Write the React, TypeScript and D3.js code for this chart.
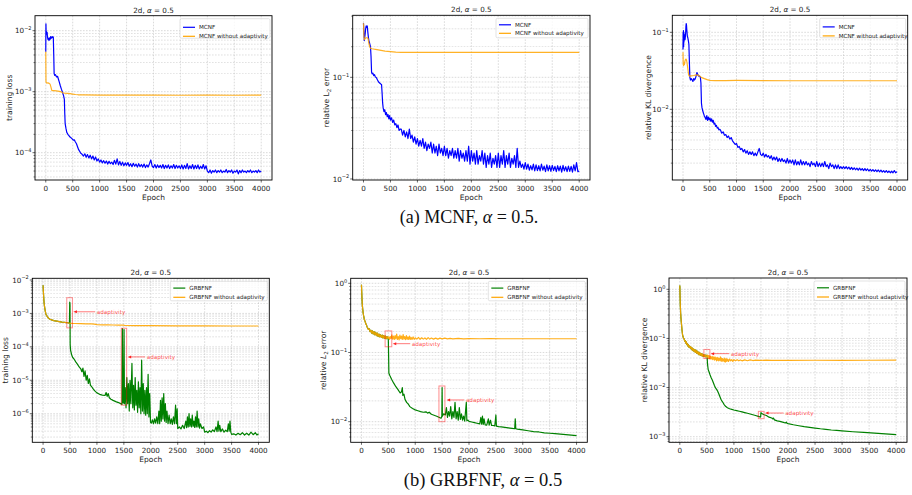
import React from 'react';
import * as d3 from 'd3';

type P = [number, number];

// ---------------- data ----------------
const X_DOMAIN: [number, number] = [-200, 4200];
const EPOCH_TICKS = [0, 500, 1000, 1500, 2000, 2500, 3000, 3500, 4000];

// (a) MCNF training loss
const mcnfLossHead: P[] = [[0,4.5e-3],[3,1.3e-2],[6,1.0e-2],[10,9.3e-3],[15,9.6e-3],[20,8.8e-3],[25,9.4e-3],[30,8.2e-3],[35,7.6e-3],[40,7.2e-3],[50,7.5e-3],[60,6.9e-3],[70,7.6e-3],[80,7.2e-3],[90,8.0e-3],[100,7.5e-3],[110,7.9e-3],[120,7.7e-3],[130,8.0e-3],[140,7.8e-3],[148,4.0e-3],[155,2.0e-3],[165,1.85e-3],[180,1.9e-3],[200,1.75e-3],[220,1.78e-3],[235,1.6e-3],[250,1.45e-3],[270,1.25e-3],[290,1.1e-3],[310,9.8e-4],[330,8.6e-4],[345,7.5e-4],[352,4.5e-4],[360,3.0e-4],[375,2.5e-4],[390,2.15e-4],[410,2.0e-4],[430,1.9e-4],[450,1.8e-4],[470,1.75e-4],[490,1.68e-4],[510,1.6e-4],[530,1.62e-4],[550,1.5e-4],[570,1.4e-4],[590,1.25e-4],[610,1.12e-4],[630,1.05e-4],[650,9.8e-5],[675,9.4e-5]];
const mcnfLossTail = [
  8.8e-5,9.6e-5,8.4e-5,9.3e-5,8.2e-5,9.1e-5,7.9e-5,8.8e-5,
  7.6e-5,8.5e-5,7.3e-5,7.9e-5,7.0e-5,7.6e-5,6.8e-5,7.4e-5,
  6.7e-5,7.3e-5,6.5e-5,7.2e-5,6.6e-5,7.0e-5,6.4e-5,7.5e-5,
  6.5e-5,7.9e-5,6.3e-5,7.2e-5,6.2e-5,7.0e-5,6.1e-5,6.8e-5,
  6.2e-5,6.9e-5,6.0e-5,6.6e-5,5.9e-5,6.7e-5,6.0e-5,6.5e-5,
  5.8e-5,6.6e-5,5.9e-5,6.4e-5,5.8e-5,6.5e-5,5.7e-5,6.3e-5,
  5.8e-5,6.6e-5,7.6e-5,6.0e-5,5.7e-5,6.4e-5,5.6e-5,6.3e-5,
  5.7e-5,6.2e-5,5.6e-5,6.4e-5,5.5e-5,6.2e-5,5.6e-5,6.3e-5,
  5.5e-5,6.1e-5,5.6e-5,6.4e-5,5.5e-5,6.2e-5,5.6e-5,6.1e-5,
  5.5e-5,6.3e-5,5.4e-5,6.2e-5,5.5e-5,6.6e-5,5.4e-5,6.1e-5,
  5.5e-5,6.4e-5,5.4e-5,6.2e-5,5.5e-5,6.3e-5,5.4e-5,6.0e-5,
  5.5e-5,6.4e-5,5.4e-5,6.1e-5,
  5.0e-5,4.7e-5,5.2e-5,4.6e-5,5.1e-5,4.8e-5,5.2e-5,4.7e-5,
  5.1e-5,4.8e-5,5.2e-5,4.7e-5,5.0e-5,4.8e-5,5.3e-5,4.7e-5,
  5.1e-5,4.8e-5,5.2e-5,4.6e-5,5.0e-5,4.8e-5,5.2e-5,4.5e-5,
  5.1e-5,4.7e-5,5.2e-5,4.8e-5,5.0e-5,4.7e-5,5.1e-5,4.8e-5,
  5.2e-5,4.7e-5,5.0e-5,4.8e-5,5.1e-5,4.7e-5,5.2e-5,4.8e-5,
  5.0e-5];
const mcnfLossNoAdapt: P[] = [[0,4.5e-3],[4,1.45e-3],[10,1.42e-3],[20,1.38e-3],[40,1.4e-3],[60,1.37e-3],[80,1.33e-3],[95,1.2e-3],[110,1.06e-3],[125,1.04e-3],[150,1.04e-3],[200,1.03e-3],[250,1.01e-3],[290,9.9e-4],[310,9.6e-4],[350,9.5e-4],[400,9.4e-4],[450,9.3e-4],[500,9.15e-4],[550,9.0e-4],[600,8.9e-4],[700,8.85e-4],[1000,8.8e-4],[1500,8.78e-4],[2000,8.8e-4],[2500,8.75e-4],[3000,8.78e-4],[3500,8.75e-4],[4000,8.8e-4]];

// (a) MCNF relative L2 error
const mcnfL2Head: P[] = [[0,0.34],[8,0.28],[16,0.23],[24,0.25],[32,0.27],[40,0.3],[50,0.32],[60,0.31],[70,0.32],[80,0.28],[90,0.25],[100,0.23],[110,0.22],[120,0.21],[130,0.2],[140,0.16],[150,0.112],[160,0.108],[175,0.11],[190,0.104],[205,0.106],[220,0.101],[240,0.099],[260,0.094],[280,0.09],[300,0.088],[320,0.086],[335,0.085],[345,0.07],[355,0.056],[365,0.05],[380,0.046],[395,0.048],[410,0.043],[425,0.045],[440,0.041],[455,0.043],[470,0.039],[485,0.042],[500,0.038],[520,0.04],[540,0.036],[560,0.038],[580,0.034],[600,0.035],[620,0.032],[640,0.034],[660,0.03],[680,0.031]];
const mcnfL2Tail = [
  0.031,0.027,0.030,0.026,0.029,0.025,0.031,0.025,
  0.027,0.023,0.026,0.022,0.025,0.021,0.024,0.021,
  0.025,0.020,0.023,0.019,0.022,0.020,0.023,0.018,
  0.022,0.018,0.021,0.017,0.022,0.018,0.020,0.017,
  0.021,0.017,0.020,0.016,0.019,0.017,0.020,0.016,
  0.019,0.016,0.020,0.015,0.019,0.016,0.018,0.015,
  0.019,0.015,0.021,0.014,0.019,0.015,0.018,0.014,
  0.019,0.014,0.017,0.015,0.019,0.014,0.018,0.013,
  0.017,0.014,0.018,0.013,0.016,0.014,0.017,0.013,
  0.018,0.013,0.017,0.014,0.019,0.013,0.017,0.014,
  0.018,0.013,0.016,0.014,0.017,0.013,0.020,0.013,
  0.015,0.013,0.014,0.0125,
  0.0145,0.0125,0.014,0.0122,0.0135,0.0123,0.014,0.012,
  0.0138,0.0121,0.0135,0.012,0.014,0.0122,0.0134,0.0118,
  0.0138,0.012,0.0135,0.0119,0.0136,0.0121,0.0133,0.0118,
  0.0135,0.012,0.0134,0.0117,0.0136,0.012,0.0132,0.0118,
  0.0134,0.0119,0.0133,0.0117,0.0138,0.012,0.0145,0.0118,
  0.012];
const mcnfL2NoAdapt: P[] = [[0,0.34],[8,0.26],[16,0.235],[30,0.24],[50,0.245],[70,0.245],[85,0.24],[100,0.215],[115,0.2],[130,0.193],[160,0.191],[200,0.189],[250,0.187],[300,0.185],[350,0.183],[400,0.181],[450,0.18],[500,0.179],[600,0.177],[700,0.176],[1000,0.176],[2000,0.176],[3000,0.176],[4000,0.176]];

// (a) MCNF relative KL divergence
const mcnfKLHead: P[] = [[0,0.06],[3,0.1],[6,0.07],[9,0.105],[12,0.065],[15,0.1],[18,0.075],[22,0.095],[26,0.08],[30,0.085],[35,0.08],[40,0.082],[45,0.09],[50,0.1],[55,0.12],[60,0.13],[65,0.125],[70,0.11],[75,0.1],[80,0.09],[90,0.085],[100,0.078],[110,0.07],[120,0.04],[128,0.026],[140,0.024],[155,0.025],[170,0.024],[185,0.023],[200,0.025],[215,0.024],[230,0.025],[245,0.027],[260,0.03],[270,0.029],[280,0.028],[295,0.027],[310,0.027],[325,0.026],[335,0.022],[345,0.012],[355,0.0105],[370,0.0095],[385,0.0088],[400,0.0082],[415,0.0078],[430,0.0074],[445,0.0083],[460,0.0072],[475,0.0079],[490,0.0073],[505,0.0077],[520,0.007],[535,0.0075],[550,0.0068],[565,0.0072],[580,0.0064],[595,0.0066],[610,0.006],[625,0.0062],[640,0.0057],[655,0.0058],[670,0.0054],[685,0.0055]];
const mcnfKLTail = [
  0.0054,0.0049,0.0051,0.0046,0.0047,0.0043,0.0045,0.0041,
  0.0043,0.0039,0.0037,0.0035,0.0036,0.0032,0.0033,0.003,
  0.0031,0.0028,0.003,0.0027,0.0029,0.0026,0.0028,0.0026,
  0.0028,0.0025,0.0027,0.0025,0.0028,0.0031,0.0026,0.0025,
  0.0027,0.0024,0.0026,0.0024,0.0025,0.0023,0.0025,0.0022,
  0.0024,0.0022,0.0024,0.0021,0.0023,0.0021,0.0023,0.0021,
  0.0022,0.002,0.0023,0.002,0.0022,0.002,0.0022,0.0019,
  0.0022,0.0019,0.0021,0.0019,0.0022,0.0019,0.0021,0.0019,
  0.0021,0.0019,0.002,0.0018,0.0021,0.0019,0.002,0.0018,
  0.0021,0.0018,0.002,0.0018,0.002,0.0018,0.0021,0.0018,
  0.0019,0.0017,0.002,0.0018,0.0019,0.0017,0.0019,0.0017,
  0.0019,0.0017,0.0018,0.0017,
  0.0018,0.0017,0.0018,0.00168,0.00178,0.00166,0.00176,0.00165,
  0.00174,0.00164,0.00172,0.00162,0.00172,0.00162,0.0017,0.0016,
  0.0017,0.0016,0.00168,0.00158,0.00166,0.00158,0.00165,0.00156,
  0.00164,0.00155,0.00163,0.00154,0.00162,0.00153,0.0016,0.00152,
  0.0016,0.00151,0.00158,0.0015,0.00157,0.0015,0.0016,0.0015,
  0.00155];
const mcnfKLNoAdapt: P[] = [[0,0.055],[4,0.04],[10,0.037],[18,0.04],[26,0.038],[35,0.042],[45,0.044],[55,0.045],[65,0.044],[75,0.04],[90,0.034],[105,0.028],[120,0.027],[150,0.0272],[200,0.0275],[250,0.028],[280,0.0278],[310,0.027],[350,0.0258],[400,0.025],[450,0.0243],[500,0.0238],[600,0.0236],[800,0.0236],[1000,0.0237],[1500,0.0236],[2000,0.0235],[3000,0.0235],[4000,0.0235]];

// (b) GRBFNF training loss
const grbfLossHead: P[] = [[0,7e-3],[5,4.8e-3],[10,3.4e-3],[15,2.5e-3],[20,2.0e-3],[30,1.5e-3],[40,1.2e-3],[50,1.0e-3],[60,9e-4],[80,8e-4],[100,7.2e-4],[130,6.7e-4],[160,6.4e-4],[200,6.1e-4],[250,5.9e-4],[300,5.7e-4],[350,5.5e-4],[400,5.4e-4],[450,5.25e-4],[490,5.15e-4]];
const grbfLossNoAdaptTail: P[] = [[550,5.05e-4],[600,5.0e-4],[700,4.95e-4],[800,4.9e-4],[900,4.85e-4],[950,4.8e-4],[1000,4.6e-4],[1100,4.55e-4],[1200,4.52e-4],[1300,4.5e-4],[1400,4.48e-4],[1500,4.45e-4],[1510,4.35e-4],[1700,4.32e-4],[2000,4.3e-4],[2500,4.25e-4],[3000,4.22e-4],[3500,4.2e-4],[4000,4.2e-4]];
const grbfLossTail: P[] = [[495,2.2e-3],[500,1.9e-3],[503,1.2e-4],[510,8e-5],[530,5.8e-5],[550,4.8e-5],[580,4.2e-5],[610,3.5e-5],[640,3.0e-5],[670,2.5e-5],[700,2.2e-5],[720,1.8e-5],[740,2.3e-5],[760,1.3e-5],[780,1.9e-5],[800,1.0e-5],[820,1.4e-5],[840,8e-6],[860,1.1e-5],[880,7e-6],[900,6.5e-6],[930,5.5e-6],[960,4.8e-6],[1000,4.2e-6],[1050,3.8e-6],[1100,3.6e-6],[1150,3.5e-6],[1170,4.3e-6],[1190,3.3e-6],[1210,4.0e-6],[1230,3.0e-6],[1260,2.7e-6],[1300,2.5e-6],[1350,2.3e-6],[1400,2.15e-6],[1440,2.0e-6],[1465,1.9e-6],[1472,3.5e-4],[1480,2.2e-6],[1495,2.1e-6],[1503,3.3e-4],[1511,2.0e-6],[1525,6e-6],[1540,1.5e-6],[1555,1.2e-5],[1570,2e-6],[1585,8e-6],[1600,1.2e-6],[1615,1.0e-5],[1630,2e-6],[1650,3.2e-5],[1665,1.5e-6],[1680,7e-6],[1695,1.3e-6],[1710,1.2e-5],[1725,1.8e-6],[1740,5e-6],[1755,1.1e-6],[1770,9e-6],[1785,1.5e-6],[1800,6e-6],[1815,1.0e-6],[1830,4e-5],[1845,1.2e-6],[1860,8e-6],[1875,1.0e-6],[1890,5e-6],[1905,9e-7],[1920,6e-6],[1935,1.0e-6],[1950,1.5e-5],[1965,8e-7],[1980,4e-6],[1995,5.5e-7],[2010,5.2e-7],[2030,6.5e-7],[2050,5e-7],[2070,7e-7],[2090,5.2e-7],[2110,8e-7],[2130,5e-7],[2150,1.2e-6],[2165,5e-7],[2180,2.5e-6],[2195,6e-7],[2210,3e-6],[2225,7e-7],[2240,4e-6],[2255,6e-7],[2270,2e-6],[2285,5.5e-7],[2300,1.2e-6],[2320,5e-7],[2340,9e-7],[2360,5e-7],[2380,7e-7],[2400,4.8e-7],[2420,8e-7],[2440,5e-7],[2460,1.8e-6],[2475,5e-7],[2490,1.4e-6],[2500,3.6e-7],[2530,4e-7],[2560,3.5e-7],[2590,4.5e-7],[2620,3.6e-7],[2650,6e-7],[2665,3.8e-7],[2680,8e-7],[2695,4e-7],[2710,1e-6],[2725,4.2e-7],[2740,7e-7],[2755,4e-7],[2770,9e-7],[2785,4.2e-7],[2800,6e-7],[2815,3.9e-7],[2830,8e-7],[2845,4e-7],[2860,1.2e-6],[2875,4e-7],[2890,7e-7],[2905,3.7e-7],[2920,5e-7],[2950,3.6e-7],[2980,4e-7],[3000,2.8e-7],[3030,3e-7],[3060,2.7e-7],[3090,3.1e-7],[3120,2.8e-7],[3150,3.3e-7],[3180,2.9e-7],[3210,4e-7],[3230,2.9e-7],[3250,6e-7],[3265,3e-7],[3280,4.5e-7],[3300,2.9e-7],[3330,3.5e-7],[3360,2.8e-7],[3390,3.2e-7],[3420,2.9e-7],[3440,5e-7],[3455,3e-7],[3470,6e-7],[3485,2.8e-7],[3500,2.4e-7],[3540,2.5e-7],[3580,2.3e-7],[3620,2.6e-7],[3660,2.35e-7],[3700,2.7e-7],[3740,2.3e-7],[3780,2.6e-7],[3820,2.3e-7],[3860,2.8e-7],[3900,2.35e-7],[3940,2.7e-7],[3970,2.3e-7],[4000,2.5e-7]];

// (b) GRBFNF relative L2 error
const grbfL2Head: P[] = [[0,0.95],[5,0.75],[10,0.6],[15,0.5],[20,0.45],[30,0.38],[40,0.34],[50,0.31],[60,0.29],[70,0.28],[80,0.26],[90,0.255],[100,0.24],[115,0.225],[130,0.215],[145,0.22],[160,0.2],[175,0.21],[190,0.19],[205,0.205],[220,0.185],[235,0.2],[250,0.18],[265,0.195],[280,0.175],[295,0.19],[310,0.17],[325,0.185],[340,0.168],[355,0.18],[370,0.165],[385,0.178],[400,0.162],[415,0.176],[430,0.16],[445,0.172],[460,0.158],[475,0.17],[490,0.16]];
const grbfL2NoAdaptTail: P[] = [[505,0.168],[520,0.155],[535,0.17],[550,0.158],[565,0.18],[580,0.156],[595,0.172],[610,0.154],[625,0.175],[640,0.157],[655,0.185],[670,0.155],[685,0.17],[700,0.152],[715,0.178],[730,0.158],[745,0.172],[760,0.154],[775,0.182],[790,0.156],[805,0.17],[820,0.153],[835,0.176],[850,0.155],[865,0.168],[880,0.154],[895,0.172],[910,0.155],[925,0.165],[940,0.154],[960,0.168],[980,0.155],[1000,0.163],[1030,0.156],[1060,0.165],[1090,0.155],[1120,0.163],[1150,0.156],[1180,0.162],[1210,0.155],[1240,0.164],[1270,0.156],[1300,0.162],[1340,0.156],[1380,0.161],[1420,0.156],[1460,0.161],[1500,0.157],[1550,0.161],[1600,0.157],[1650,0.16],[1700,0.157],[1800,0.16],[1900,0.157],[2000,0.159],[2200,0.158],[2400,0.159],[2600,0.158],[3000,0.158],[3500,0.158],[4000,0.158]];
const grbfL2Tail: P[] = [[495,0.16],[500,0.15],[505,0.09],[510,0.05],[530,0.046],[560,0.041],[600,0.036],[640,0.032],[680,0.029],[720,0.026],[745,0.027],[760,0.031],[770,0.024],[790,0.025],[810,0.021],[840,0.019],[870,0.018],[900,0.0165],[950,0.0155],[1000,0.0148],[1050,0.0144],[1100,0.014],[1150,0.0137],[1200,0.0139],[1230,0.0133],[1260,0.0137],[1300,0.0128],[1350,0.0124],[1400,0.012],[1450,0.0115],[1480,0.0112],[1495,0.012],[1500,0.031],[1505,0.012],[1530,0.013],[1560,0.0125],[1580,0.016],[1600,0.0115],[1620,0.014],[1640,0.012],[1660,0.0165],[1680,0.011],[1700,0.014],[1720,0.0115],[1740,0.019],[1760,0.011],[1780,0.014],[1800,0.0105],[1820,0.016],[1840,0.0108],[1860,0.013],[1880,0.0105],[1900,0.012],[1920,0.0102],[1950,0.019],[1960,0.0103],[1980,0.0105],[2000,0.0101],[2050,0.0099],[2100,0.0097],[2150,0.0095],[2200,0.0093],[2220,0.0115],[2235,0.0092],[2250,0.012],[2265,0.0091],[2280,0.011],[2300,0.009],[2330,0.0089],[2360,0.011],[2375,0.0089],[2400,0.0105],[2420,0.0088],[2450,0.0088],[2480,0.0087],[2500,0.0125],[2510,0.0086],[2550,0.0085],[2600,0.0084],[2700,0.0082],[2800,0.008],[2850,0.0079],[2860,0.011],[2870,0.0079],[2900,0.0078],[3000,0.0076],[3100,0.0074],[3200,0.0072],[3300,0.0071],[3400,0.0069],[3500,0.0068],[3600,0.0067],[3700,0.0066],[3800,0.0065],[3900,0.0064],[4000,0.0063]];

// (b) GRBFNF relative KL divergence
const grbfKLHead: P[] = [[0,1.2],[5,0.7],[10,0.45],[15,0.33],[20,0.27],[30,0.2],[40,0.15],[50,0.12],[60,0.108],[70,0.1],[80,0.098],[90,0.088],[100,0.09],[110,0.08],[120,0.085],[130,0.075],[140,0.078],[150,0.07],[160,0.074],[170,0.066],[180,0.07],[190,0.064],[200,0.068],[210,0.061],[220,0.065],[230,0.058],[240,0.063],[250,0.056],[260,0.06],[270,0.054],[280,0.059],[290,0.052],[300,0.057],[310,0.05],[320,0.055],[330,0.049],[340,0.053],[350,0.047],[360,0.052],[370,0.046],[380,0.05],[390,0.045],[400,0.049],[410,0.044],[420,0.048],[430,0.043],[440,0.047],[450,0.043],[460,0.046],[470,0.042],[480,0.046],[490,0.044]];
const grbfKLNoAdaptTail: P[] = [[500,0.042],[510,0.046],[520,0.041],[530,0.045],[540,0.039],[550,0.044],[560,0.038],[570,0.043],[580,0.039],[590,0.042],[600,0.037],[610,0.043],[620,0.038],[630,0.041],[640,0.036],[650,0.042],[660,0.037],[670,0.04],[680,0.035],[690,0.041],[700,0.036],[710,0.04],[720,0.035],[730,0.039],[740,0.036],[750,0.042],[760,0.035],[770,0.04],[780,0.034],[790,0.039],[800,0.035],[810,0.038],[820,0.034],[830,0.04],[840,0.033],[850,0.038],[860,0.034],[870,0.039],[880,0.035],[890,0.037],[900,0.034],[920,0.038],[940,0.035],[960,0.037],[980,0.034],[1000,0.037],[1030,0.035],[1060,0.037],[1090,0.035],[1120,0.0365],[1150,0.035],[1200,0.0365],[1250,0.0352],[1300,0.0365],[1350,0.0355],[1400,0.0362],[1500,0.0356],[1600,0.0362],[1700,0.0356],[1800,0.036],[2000,0.0358],[2500,0.036],[3000,0.0358],[3500,0.036],[4000,0.0362]];
const grbfKLTail: P[] = [[500,0.045],[505,0.042],[512,0.03],[525,0.023],[540,0.021],[560,0.018],[580,0.0158],[600,0.0142],[620,0.0125],[640,0.011],[660,0.0098],[680,0.0092],[700,0.0084],[720,0.0075],[740,0.0066],[760,0.0058],[780,0.0053],[800,0.0049],[820,0.0045],[850,0.0041],[880,0.0039],[920,0.0037],[960,0.0036],[1000,0.0035],[1050,0.0034],[1100,0.0033],[1150,0.0032],[1200,0.0031],[1250,0.003],[1300,0.0029],[1350,0.0028],[1400,0.0027],[1450,0.0026],[1490,0.0025],[1495,0.0026],[1500,0.0031],[1510,0.003],[1530,0.0029],[1560,0.0028],[1600,0.0027],[1650,0.0025],[1700,0.0024],[1720,0.0023],[1730,0.0024],[1750,0.0022],[1800,0.0021],[1850,0.00205],[1900,0.00198],[1950,0.0019],[1970,0.00198],[1980,0.00188],[2000,0.00185],[2100,0.00175],[2200,0.00167],[2300,0.0016],[2400,0.00155],[2500,0.0015],[2600,0.00145],[2700,0.00141],[2800,0.00137],[2900,0.00134],[3000,0.00131],[3200,0.00126],[3400,0.00122],[3600,0.00118],[3800,0.00114],[4000,0.0011]];

// annotations: rectangles [e0, e1, vLow, vHigh]; arrows [textEpoch, value, headEpoch]
const lossRects = [[440, 545, 3.7e-4, 2.95e-3], [1452, 1552, 1.8e-6, 3.6e-4]];
const lossArrows = [[996, 1.12e-3, 562], [1923, 5.0e-5, 1571]];
const l2Rects = [[440, 564, 0.121, 0.205], [1441, 1552, 0.01, 0.0328]];
const l2Arrows = [[935, 0.134, 582], [1942, 0.0206, 1584]];
const klRects = [[445, 556, 0.039, 0.0597], [1452, 1558, 0.00233, 0.00328]];
const klArrows = [[940, 0.049, 569], [1947, 0.00303, 1576]];

const LEGEND_A = ['MCNF', 'MCNF without adaptivity'];
const LEGEND_B = ['GRBFNF', 'GRBFNF without adaptivity'];

// ---------------- helpers ----------------
const tail = (start: number, step: number, vals: number[]): P[] => vals.map((v, i) => [start + i * step, v] as P);

const BLUE = '#0000ff';
const ORANGE = '#ffa500';
const GREEN = '#008000';
const FONT = 'DejaVu Sans, sans-serif';

type Cfg = { x0: number; x1: number; y0: number; y1: number; ylo: number; yhi: number; labelX: number; legendW: number; legendRows: [number, number] };

function YLabel({ kind, italic }: { kind: string; italic?: boolean }) {
  if (kind === 'loss') return <>training loss</>;
  if (kind === 'kl') return <>relative KL divergence</>;
  return (
    <>
      relative <tspan fontStyle={italic ? 'italic' : 'normal'}>L</tspan>
      <tspan fontSize={5.5} dy={1.8}>2</tspan>
      <tspan dy={-1.8}> error</tspan>
    </>
  );
}

function Panel({ idx, cfg, series, legend, rects, arrows, yKind, italicL }: any) {
  const { x0, x1, y0, y1, ylo, yhi } = cfg as Cfg;
  const x = d3.scaleLinear().domain(X_DOMAIN).range([x0, x1]);
  const y = d3.scaleLog().domain([Math.pow(10, ylo), Math.pow(10, yhi)]).range([y1, y0]);
  const majors: number[] = d3.range(Math.ceil(ylo), Math.floor(yhi) + 1);
  const minors: number[] = [];
  for (let k = Math.floor(ylo); k <= Math.ceil(yhi); k++) {
    for (let j = 2; j <= 9; j++) {
      const lv = Math.log10(j) + k;
      if (lv >= ylo && lv <= yhi) minors.push(j * Math.pow(10, k));
    }
  }
  const line = d3.line<P>().x(d => x(d[0])).y(d => y(d[1]));
  const clipId = `clip-${idx}`;
  const gridStyle = { stroke: '#b4b4b4', strokeWidth: 0.5, strokeDasharray: '1.6,1.4' };
  const lx = x1 - 2 - cfg.legendW;
  const ly = y0 + 3;
  return (
    <g>
      <defs>
        <clipPath id={clipId}>
          <rect x={x0} y={y0} width={x1 - x0} height={y1 - y0} />
        </clipPath>
      </defs>
      <g>
        {minors.map((v, i) => (
          <line key={'mg' + i} x1={x0} x2={x1} y1={y(v)} y2={y(v)} {...gridStyle} opacity={0.8} />
        ))}
        {majors.map(k => (
          <line key={'Mg' + k} x1={x0} x2={x1} y1={y(Math.pow(10, k))} y2={y(Math.pow(10, k))} {...gridStyle} />
        ))}
        {EPOCH_TICKS.map(t => (
          <line key={'xg' + t} x1={x(t)} x2={x(t)} y1={y0} y2={y1} {...gridStyle} />
        ))}
      </g>
      <g clipPath={`url(#${clipId})`}>
        {series.map((s: any, i: number) => (
          <path key={i} d={line(s.data) || ''} fill="none" stroke={s.color} strokeWidth={s.width} strokeOpacity={s.opacity} strokeLinejoin="round" />
        ))}
      </g>
      {rects && rects.map((r: number[], i: number) => (
        <rect key={'r' + i} x={x(r[0])} y={y(r[3])} width={x(r[1]) - x(r[0])} height={y(r[2]) - y(r[3])} fill="none" stroke="#ff0000" strokeOpacity={0.45} strokeWidth={1} />
      ))}
      {arrows && arrows.map((a: number[], i: number) => {
        const tx = x(a[0]);
        const hx = x(a[2]);
        const yy = y(a[1]);
        return (
          <g key={'a' + i}>
            <line x1={tx - 1.5} x2={hx + 3} y1={yy} y2={yy} stroke="#ff0000" strokeOpacity={0.75} strokeWidth={0.7} />
            <path d={`M${hx},${yy} L${hx + 3.5},${yy - 1.5} L${hx + 3.5},${yy + 1.5} Z`} fill="#ff0000" fillOpacity={0.85} />
            <text x={tx} y={yy} dy="0.33em" fontSize={5.7} fill="#ff3030" fillOpacity={0.85} fontFamily={FONT}>adaptivity</text>
          </g>
        );
      })}
      <g>
        <rect x={lx} y={ly} width={cfg.legendW} height={19.5} rx={1.5} fill="#ffffff" fillOpacity={0.8} stroke="#d0d0d0" strokeWidth={0.6} />
        {legend.map((name: string, i: number) => {
          const yy = ly + cfg.legendRows[i];
          const col = series[i].color;
          return (
            <g key={name}>
              <line x1={lx + 3} x2={lx + 15} y1={yy} y2={yy} stroke={col} strokeWidth={1.2} />
              <text x={lx + 19} y={yy} dy="0.35em" fontSize={5.6} fill="#222" fontFamily={FONT}>{name}</text>
            </g>
          );
        })}
      </g>
      <rect x={x0} y={y0} width={x1 - x0} height={y1 - y0} fill="none" stroke="#000" strokeWidth={0.9} />
      {EPOCH_TICKS.map(t => (
        <g key={'xt' + t}>
          <line x1={x(t)} x2={x(t)} y1={y1} y2={y1 + 2.5} stroke="#000" strokeWidth={0.6} />
          <text x={x(t)} y={y1 + 10.5} textAnchor="middle" fontSize={7.2} fill="#222" fontFamily={FONT}>{t}</text>
        </g>
      ))}
      <text x={(x0 + x1) / 2} y={y1 + 19.5} textAnchor="middle" fontSize={7.5} fill="#222" fontFamily={FONT}>Epoch</text>
      {minors.map((v, i) => (
        <line key={'mt' + i} x1={x0 - 1.5} x2={x0} y1={y(v)} y2={y(v)} stroke="#000" strokeWidth={0.5} />
      ))}
      {majors.map(k => {
        const yy = y(Math.pow(10, k));
        return (
          <g key={'yt' + k}>
            <line x1={x0 - 2.5} x2={x0} y1={yy} y2={yy} stroke="#000" strokeWidth={0.6} />
            <text x={x0 - 3.5} y={yy} dy="0.35em" textAnchor="end" fontSize={7.2} fill="#222" fontFamily={FONT}>
              10<tspan fontSize={5} dy={-3.2}>{k < 0 ? '\u2212' + Math.abs(k) : String(k)}</tspan>
            </text>
          </g>
        );
      })}
      <text transform={`translate(${cfg.labelX},${(y0 + y1) / 2}) rotate(-90)`} textAnchor="middle" dy="0.35em" fontSize={7.6} fill="#222" fontFamily={FONT}>
        <YLabel kind={yKind} italic={italicL} />
      </text>
      <text x={(x0 + x1) / 2} y={y0 - 3.2} textAnchor="middle" fontSize={7.2} fill="#222" fontFamily={FONT}>
        2d, <tspan fontStyle="italic">α</tspan> = 0.5
      </text>
    </g>
  );
}

const CFGS: Cfg[] = [
  { x0: 35, x1: 272, y0: 15.7, y1: 180, ylo: -4.448, yhi: -1.754, labelX: 9, legendW: 90, legendRows: [8.6, 17.6] },
  { x0: 352.7, x1: 590, y0: 15.3, y1: 180, ylo: -2.01, yhi: -0.39, labelX: 326.7, legendW: 92, legendRows: [6.5, 15] },
  { x0: 672.3, x1: 907.7, y0: 15.3, y1: 180, ylo: -2.918, yhi: -0.779, labelX: 648.3, legendW: 86, legendRows: [8.6, 17.6] },
  { x0: 32.3, x1: 269.3, y0: 278.3, y1: 442.3, ylo: -6.856, yhi: -1.949, labelX: 5.5, legendW: 97, legendRows: [6.8, 16] },
  { x0: 350.7, x1: 587.3, y0: 278.3, y1: 442.3, ylo: -2.298, yhi: 0.072, labelX: 323.3, legendW: 97, legendRows: [6.8, 16] },
  { x0: 669, x1: 907, y0: 278, y1: 442.3, ylo: -3.114, yhi: 0.23, labelX: 644, legendW: 91, legendRows: [6.8, 16] },
];

export default function App() {
  const mk = (data: P[], color: string, opacity = 1) => ({ data, color, width: 1.2, opacity });
  const panels = [
    { series: [mk(mcnfLossHead.concat(tail(700, 25, mcnfLossTail)), BLUE), mk(mcnfLossNoAdapt, ORANGE, 0.85)], legend: LEGEND_A, yKind: 'loss' },
    { series: [mk(mcnfL2Head.concat(tail(700, 25, mcnfL2Tail)), BLUE), mk(mcnfL2NoAdapt, ORANGE, 0.85)], legend: LEGEND_A, yKind: 'l2' },
    { series: [mk(mcnfKLHead.concat(tail(700, 25, mcnfKLTail)), BLUE), mk(mcnfKLNoAdapt, ORANGE, 0.85)], legend: LEGEND_A, yKind: 'kl' },
    { series: [mk(grbfLossHead.concat(grbfLossTail), GREEN), mk(grbfLossHead.concat(grbfLossNoAdaptTail), ORANGE, 0.9)], legend: LEGEND_B, yKind: 'loss', rects: lossRects, arrows: lossArrows },
    { series: [mk(grbfL2Head.concat(grbfL2Tail), GREEN), mk(grbfL2Head.concat(grbfL2NoAdaptTail), ORANGE, 0.9)], legend: LEGEND_B, yKind: 'l2', italicL: true, rects: l2Rects, arrows: l2Arrows },
    { series: [mk(grbfKLHead.concat(grbfKLTail), GREEN), mk(grbfKLHead.concat(grbfKLNoAdaptTail), ORANGE, 0.9)], legend: LEGEND_B, yKind: 'kl', rects: klRects, arrows: klArrows },
  ];
  return (
    <svg width={912} height={495} viewBox="0 0 912 495" style={{ position: 'absolute', left: 0, top: 0, background: '#fff' }}>
      <rect x={0} y={0} width={912} height={495} fill="#fff" />
      {panels.map((p, i) => (
        <Panel key={i} idx={i} cfg={CFGS[i]} {...p} />
      ))}
      <text x={469} y={223} textAnchor="middle" fontSize={18} fill="#111" fontFamily="Liberation Serif, serif">
        (a) MCNF, <tspan fontStyle="italic">α</tspan> = 0.5.
      </text>
      <text x={483} y={486} textAnchor="middle" fontSize={18.5} fill="#111" fontFamily="Liberation Serif, serif">
        (b) GRBFNF, <tspan fontStyle="italic">α</tspan> = 0.5
      </text>
    </svg>
  );
}
